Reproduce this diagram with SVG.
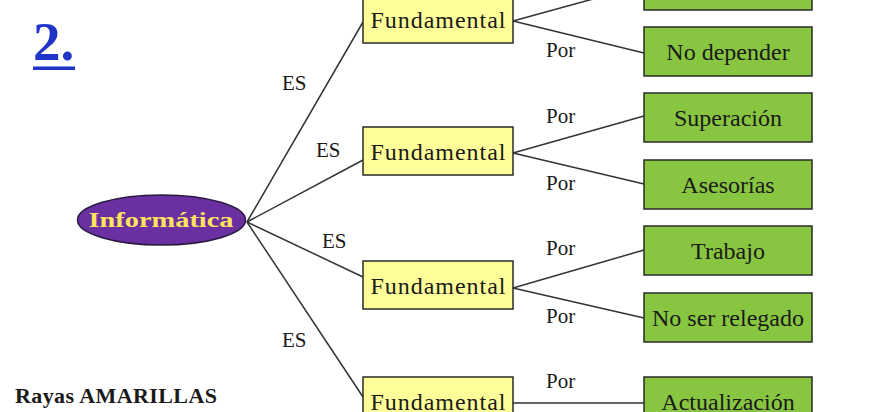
<svg xmlns="http://www.w3.org/2000/svg" width="879" height="412" viewBox="0 0 879 412">
<style>
.t{font-family:"Liberation Serif","Times New Roman",serif;fill:#1a1a1a}
.lbl{font-size:21px}
.box{font-size:24px;text-anchor:middle}
.yel{fill:#FFFF99;stroke:#2a2a2a;stroke-width:1.5}
.grn{fill:#88C540;stroke:#2a2a2a;stroke-width:1.5}
.con line{stroke:#333;stroke-width:1.5}
</style>
<rect width="879" height="412" fill="#ffffff"/>
<g id="title">
<text x="33" y="60" class="t" style="font-size:55px;font-weight:bold;fill:#1E35C8">2.</text>
<rect x="33" y="66.5" width="42" height="3.5" fill="#1E35C8"/>
</g>
<g id="connectors" class="con">
<line x1="247" y1="222" x2="363" y2="22"/>
<line x1="247" y1="222" x2="363" y2="160"/>
<line x1="247" y1="222" x2="363" y2="277"/>
<line x1="247" y1="222" x2="363" y2="397"/>
<line x1="513" y1="21" x2="644" y2="-15"/>
<line x1="513" y1="21" x2="644" y2="53"/>
<line x1="513" y1="153" x2="644" y2="116"/>
<line x1="513" y1="153" x2="644" y2="184"/>
<line x1="513" y1="288" x2="644" y2="250"/>
<line x1="513" y1="288" x2="644" y2="318"/>
<line x1="513" y1="403" x2="644" y2="403"/>
</g>
<g id="labels" class="t lbl">
<text x="282" y="90">ES</text>
<text x="316" y="157">ES</text>
<text x="322" y="248">ES</text>
<text x="282" y="347">ES</text>
<text x="546" y="57">Por</text>
<text x="546" y="123">Por</text>
<text x="546" y="190">Por</text>
<text x="546" y="255">Por</text>
<text x="546" y="323">Por</text>
<text x="546" y="388">Por</text>
</g>
<g id="informatica">
<ellipse cx="161.5" cy="220" rx="84" ry="25" fill="#6A2FA0" stroke="#2a1a40" stroke-width="1.5"/>
<text x="161" y="227" text-anchor="middle" textLength="145" lengthAdjust="spacingAndGlyphs" style="font-family:'Liberation Serif','Times New Roman',serif;font-size:22px;font-weight:bold;fill:#FFE45C">Informática</text>
</g>
<g id="fund1"><rect class="yel" x="363" y="-5" width="150" height="48"/><text class="t box" x="438" y="28" textLength="135">Fundamental</text></g>
<g id="fund2"><rect class="yel" x="363" y="127" width="150" height="48"/><text class="t box" x="438" y="160" textLength="135">Fundamental</text></g>
<g id="fund3"><rect class="yel" x="363" y="261" width="150" height="48"/><text class="t box" x="438" y="294" textLength="135">Fundamental</text></g>
<g id="fund4"><rect class="yel" x="363" y="377" width="150" height="48"/><text class="t box" x="438" y="410" textLength="135">Fundamental</text></g>
<g id="g0"><rect class="grn" x="644" y="-39" width="168" height="49"/></g>
<g id="g1"><rect class="grn" x="644" y="27" width="168" height="49"/><text class="t box" x="728" y="60">No depender</text></g>
<g id="g2"><rect class="grn" x="644" y="93" width="168" height="49"/><text class="t box" x="728" y="126">Superación</text></g>
<g id="g3"><rect class="grn" x="644" y="160" width="168" height="49"/><text class="t box" x="728" y="193">Asesorías</text></g>
<g id="g4"><rect class="grn" x="644" y="226" width="168" height="49"/><text class="t box" x="728" y="259">Trabajo</text></g>
<g id="g5"><rect class="grn" x="644" y="293" width="168" height="49"/><text class="t box" x="728" y="326">No ser relegado</text></g>
<g id="g6"><rect class="grn" x="644" y="377" width="168" height="49"/><text class="t box" x="728" y="410">Actualización</text></g>
<g id="note"><text x="15" y="403" class="t" textLength="202" style="font-size:22px;font-weight:bold">Rayas AMARILLAS</text></g>
</svg>
